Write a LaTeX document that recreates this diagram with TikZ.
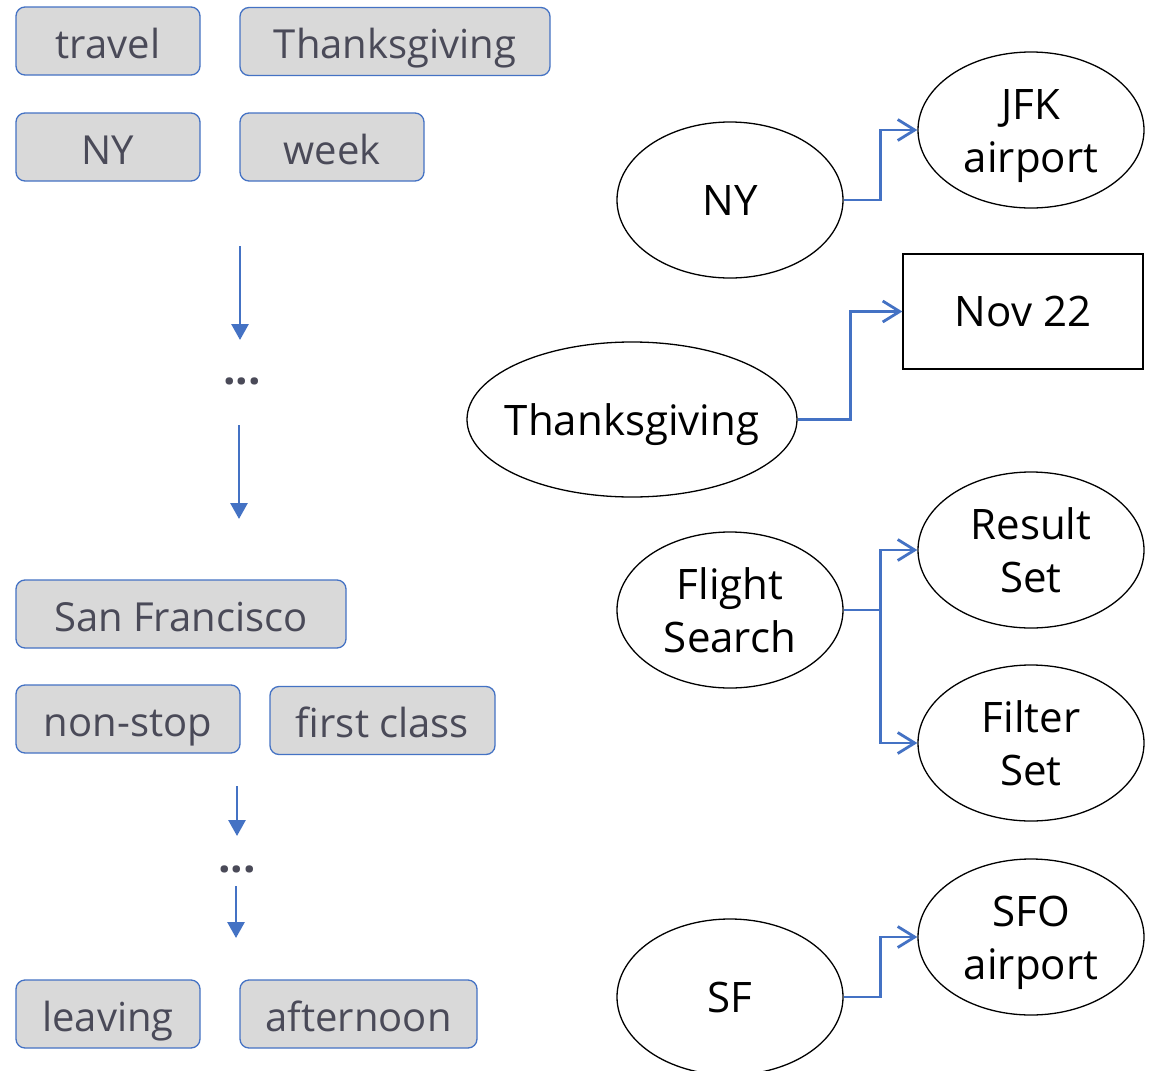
\documentclass[tikz,border=0pt]{standalone}
\usepackage{fontspec}
\setmainfont{Open Sans}
\usetikzlibrary{arrows.meta,shapes.geometric}
\definecolor{tagfill}{HTML}{D9D9D9}
\definecolor{tagline}{HTML}{4472C4}
\definecolor{tagtext}{HTML}{4A4A58}
\definecolor{flow}{HTML}{4472C4}
% centred text of zero width, so an ellipse keeps its given size;
% it sits a little below the node centre
\newcommand\ctext[1]{\makebox[0pt]{\raisebox{-5pt}[\height][\depth]{\begin{tabular}{@{}c@{}}#1\end{tabular}}}}
\tikzset{
  tag/.style={draw=tagline, line width=1.3pt, fill=tagfill, rounded corners=9pt,
    inner sep=0pt, minimum height=68pt, text=tagtext,
    text height=40pt, text depth=6pt,
    font=\fontsize{40}{48}\selectfont},
  concept/.style={ellipse, draw=black, line width=1.3pt, inner sep=0pt,
    minimum width=226pt, minimum height=156pt,
    font=\fontsize{42}{53}\selectfont},
  valuebox/.style={rectangle, draw=black, line width=1.3pt, inner sep=0pt,
    minimum width=240pt, minimum height=115pt, font=\fontsize{42}{50}\selectfont},
  dots/.style={text=tagtext, inner sep=0pt, font=\fontsize{44}{48}\selectfont\bfseries},
  down/.style={draw=flow, line width=2.8pt, -{Triangle[length=16pt,width=17pt]}},
  link/.style={draw=flow, line width=2.8pt, -{Straight Barb[length=17pt,width=21pt,line width=2.8pt]}}
}
\begin{document}
\begin{tikzpicture}[x=1pt,y=-1pt]
\clip (0,0) rectangle (1152,1071);
\fill[white] (0,0) rectangle (1152,1071);

% query words, first utterance
\node[tag, minimum width=184pt] (travel) at (108,41) {travel};
\node[tag, minimum width=310pt] (thanks) at (395,41.5) {Thanksgiving};
\node[tag, minimum width=184pt] (ny) at (108,147) {NY};
\node[tag, minimum width=184pt] (week) at (332,147) {week};

% ellipsis between turns
\coordinate (a1s) at (240,246);
\coordinate (a1e) at (240,340);
\node[dots] (dots1) at (242,381) {...};
\coordinate (a2s) at (239,425);
\coordinate (a2e) at (239,519);
\draw[down] (a1s) -- (a1e);
\draw[down] (a2s) -- (a2e);

% query words, later utterances
\node[tag, minimum width=330pt] (sf) at (181,614) {San Francisco};
\node[tag, minimum width=224pt] (nonstop) at (128,719) {non-stop};
\node[tag, minimum width=225pt] (first) at (382.5,720.5) {first class};

\coordinate (b1s) at (237,786);
\coordinate (b1e) at (237,836);
\node[dots] (dots2) at (237,869) {...};
\coordinate (b2s) at (236,886);
\coordinate (b2e) at (236,938);
\draw[down] (b1s) -- (b1e);
\draw[down] (b2s) -- (b2e);

\node[tag, minimum width=184pt] (leaving) at (108,1014) {leaving};
\node[tag, minimum width=237pt] (afternoon) at (358.5,1014) {afternoon};

% entities and their resolved values
\node[concept] (eny) at (730,200) {\ctext{NY}};
\node[concept] (jfk) at (1031,130) {\ctext{JFK\\airport}};
\node[valuebox] (nov) at (1023,311.5) {Nov 22};
\node[concept, minimum width=330pt, minimum height=155pt] (etg) at (632,419.5) {\ctext{Thanksgiving}};
\node[concept] (fs) at (730,610) {\ctext{Flight\\Search}};
\node[concept] (rs) at (1031,550) {\ctext{Result\\Set}};
\node[concept] (fil) at (1031,743) {\ctext{Filter\\Set}};
\node[concept] (esf) at (730,997) {\ctext{SF}};
\node[concept] (sfo) at (1031,937) {\ctext{SFO\\airport}};

\draw[link] (eny.east) -- ++(37,0) |- (jfk.west);
\draw[link] (etg.east) -- ++(53,0) |- (nov.west);
\draw[link] (fs.east) -- ++(37,0) |- (rs.west);
\draw[link] (fs.east) -- ++(37,0) |- (fil.west);
\draw[link] (esf.east) -- ++(37,0) |- (sfo.west);
\end{tikzpicture}
\end{document}
